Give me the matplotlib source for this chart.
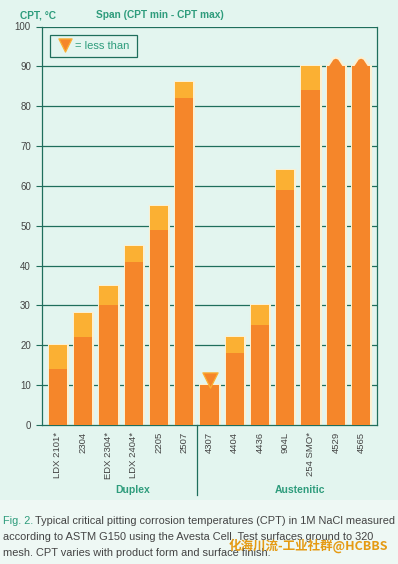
import matplotlib
matplotlib.use("Agg")
import matplotlib.pyplot as plt
from matplotlib.patches import Polygon, Rectangle

plt.rcParams["font.family"] = ["Liberation Sans", "DejaVu Sans"]

# grades, CPT min / max (deg C)
grades = ["LDX 2101*", "2304", "EDX 2304*", "LDX 2404*", "2205", "2507",
          "4307", "4404", "4436", "904L", "254 SMO*", "4529", "4565"]
cpt_min = [14, 22, 30, 41, 49, 82, 10, 18, 25, 59, 84, 90, 90]
cpt_max = [20, 28, 35, 45, 55, 86, 10, 22, 30, 64, 90, 90, 90]
less_than = ["4307"]          # shown with down triangle
above = ["4529", "4565"]      # > 90, pointed top
groups = ["Duplex", "Austenitic"]
group_size = [6, 7]
yticks = list(range(0, 101, 10))

caption_1 = "Typical critical pitting corrosion temperatures (CPT) in 1M NaCl measured"
caption_2 = "according to ASTM G150 using the Avesta Cell. Test surfaces ground to 320"
caption_3 = "mesh. CPT varies with product form and surface finish."

BG = "#e3f5ef"
TEAL = "#1f6e5c"
GREEN = "#2e9c7c"
DARK = "#f5862a"
LIGHT = "#fbb033"
GLOW = "#fbf0d2"
GREY = "#444444"

fig = plt.figure(figsize=(3.98, 5.64), dpi=100)
fig.patch.set_facecolor(BG)
fig.patches.append(Rectangle((0, 0), 1, 1 - 500 / 564, transform=fig.transFigure,
                             facecolor="#eef8f4", edgecolor="none", zorder=-1))

ax = fig.add_axes([42 / 398, 1 - 425 / 564, 335 / 398, 398.5 / 564])
ax.set_facecolor(BG)
ax.set_xlim(-0.63, 12.63)
ax.set_ylim(0, 100)

x = list(range(len(grades)))
w = 0.72
for i, g in enumerate(grades):
    top = cpt_max[i]
    # pale halo around each bar
    ax.bar(i, top, w, color=DARK, edgecolor=GLOW, linewidth=2.2, zorder=2)
    ax.bar(i, cpt_min[i], w, color=DARK, linewidth=0, zorder=3)
    if top > cpt_min[i]:
        ax.bar(i, top - cpt_min[i], w, bottom=cpt_min[i], color=LIGHT,
               linewidth=0, zorder=3)
    if g in above:
        ax.add_patch(Polygon([(i - w / 2, top - 0.4), (i - 0.12, top + 1.9),
                              (i, top + 2.2), (i + 0.12, top + 1.9),
                              (i + w / 2, top - 0.4)],
                             closed=True, facecolor=DARK, edgecolor=GLOW,
                             linewidth=1.5, zorder=2.5))
        ax.bar(i, top - 0.2, w, color=DARK, linewidth=0, zorder=3)
    if g in less_than:
        ax.scatter([i], [top + 1.3], marker="v", s=120, color=DARK,
                   edgecolors=LIGHT, linewidths=0.9, zorder=4)

for yv in yticks[1:]:
    ax.axhline(yv, color=TEAL, lw=0.9, zorder=1)
for s in ["top", "left", "right", "bottom"]:
    ax.spines[s].set_color(TEAL)
    ax.spines[s].set_linewidth(0.9)
ax.spines["top"].set_visible(False)

ax.set_yticks(yticks)
ax.tick_params(axis="y", colors=TEAL, length=4, width=0.8, labelsize=7,
               labelcolor=GREY, pad=4)
ax.set_xticks(x)
ax.set_xticklabels(grades, rotation=90, fontsize=6.8, color=GREY, va="top")
ax.tick_params(axis="x", length=0, pad=5)

# group divider and names
ax.plot([group_size[0] - 0.5] * 2, [0, -17.5], color=TEAL, lw=0.9,
        clip_on=False, zorder=1)
ax.text(2.95, -16.2, groups[0], ha="center", va="center", fontsize=7.5,
        color=GREEN, fontweight="bold")
ax.text(9.6, -16.2, groups[1], ha="center", va="center", fontsize=7.5,
        color=GREEN, fontweight="bold")

# header texts
fig.text(20 / 398, 1 - 15 / 564, "CPT, °C", fontsize=7.3, color=GREEN,
         fontweight="bold", va="center")
fig.text(96 / 398, 1 - 15 / 564, "Span (CPT min - CPT max)", fontsize=7.3,
         color=GREEN, fontweight="bold", va="center")

# legend box
lx0, lx1 = (50 - 42) / 25.25 - 0.63, (137 - 42) / 25.25 - 0.63
ax.add_patch(Rectangle((lx0, 92.3), lx1 - lx0, 5.5, facecolor="none",
                       edgecolor=TEAL, lw=0.9, zorder=5))
ax.scatter([lx0 + 0.58], [95.4], marker="v", s=90, color=DARK,
           edgecolors=LIGHT, linewidths=0.9, zorder=6)
ax.text(lx0 + 0.98, 95.0, "= less than", fontsize=8, color=GREEN,
        va="center", zorder=6)

# caption
fig.text(3 / 398, 1 - 521 / 564, "Fig. 2.", fontsize=7.9, color=GREEN, va="center")
fig.text(35 / 398, 1 - 521 / 564, caption_1, fontsize=7.9, color=GREY, va="center")
fig.text(3 / 398, 1 - 537 / 564, caption_2, fontsize=7.9, color=GREY, va="center")
fig.text(3 / 398, 1 - 553 / 564, caption_3, fontsize=7.9, color=GREY, va="center")
fig.text(229 / 398, 1 - 546 / 564, "化海川流-工业社群@HCBBS", fontsize=9.0,
         color="#e59a12", va="center", fontweight="bold",
         family=["Noto Sans CJK SC", "DejaVu Sans"])

fig.savefig("out.png", dpi=100, facecolor=BG)
